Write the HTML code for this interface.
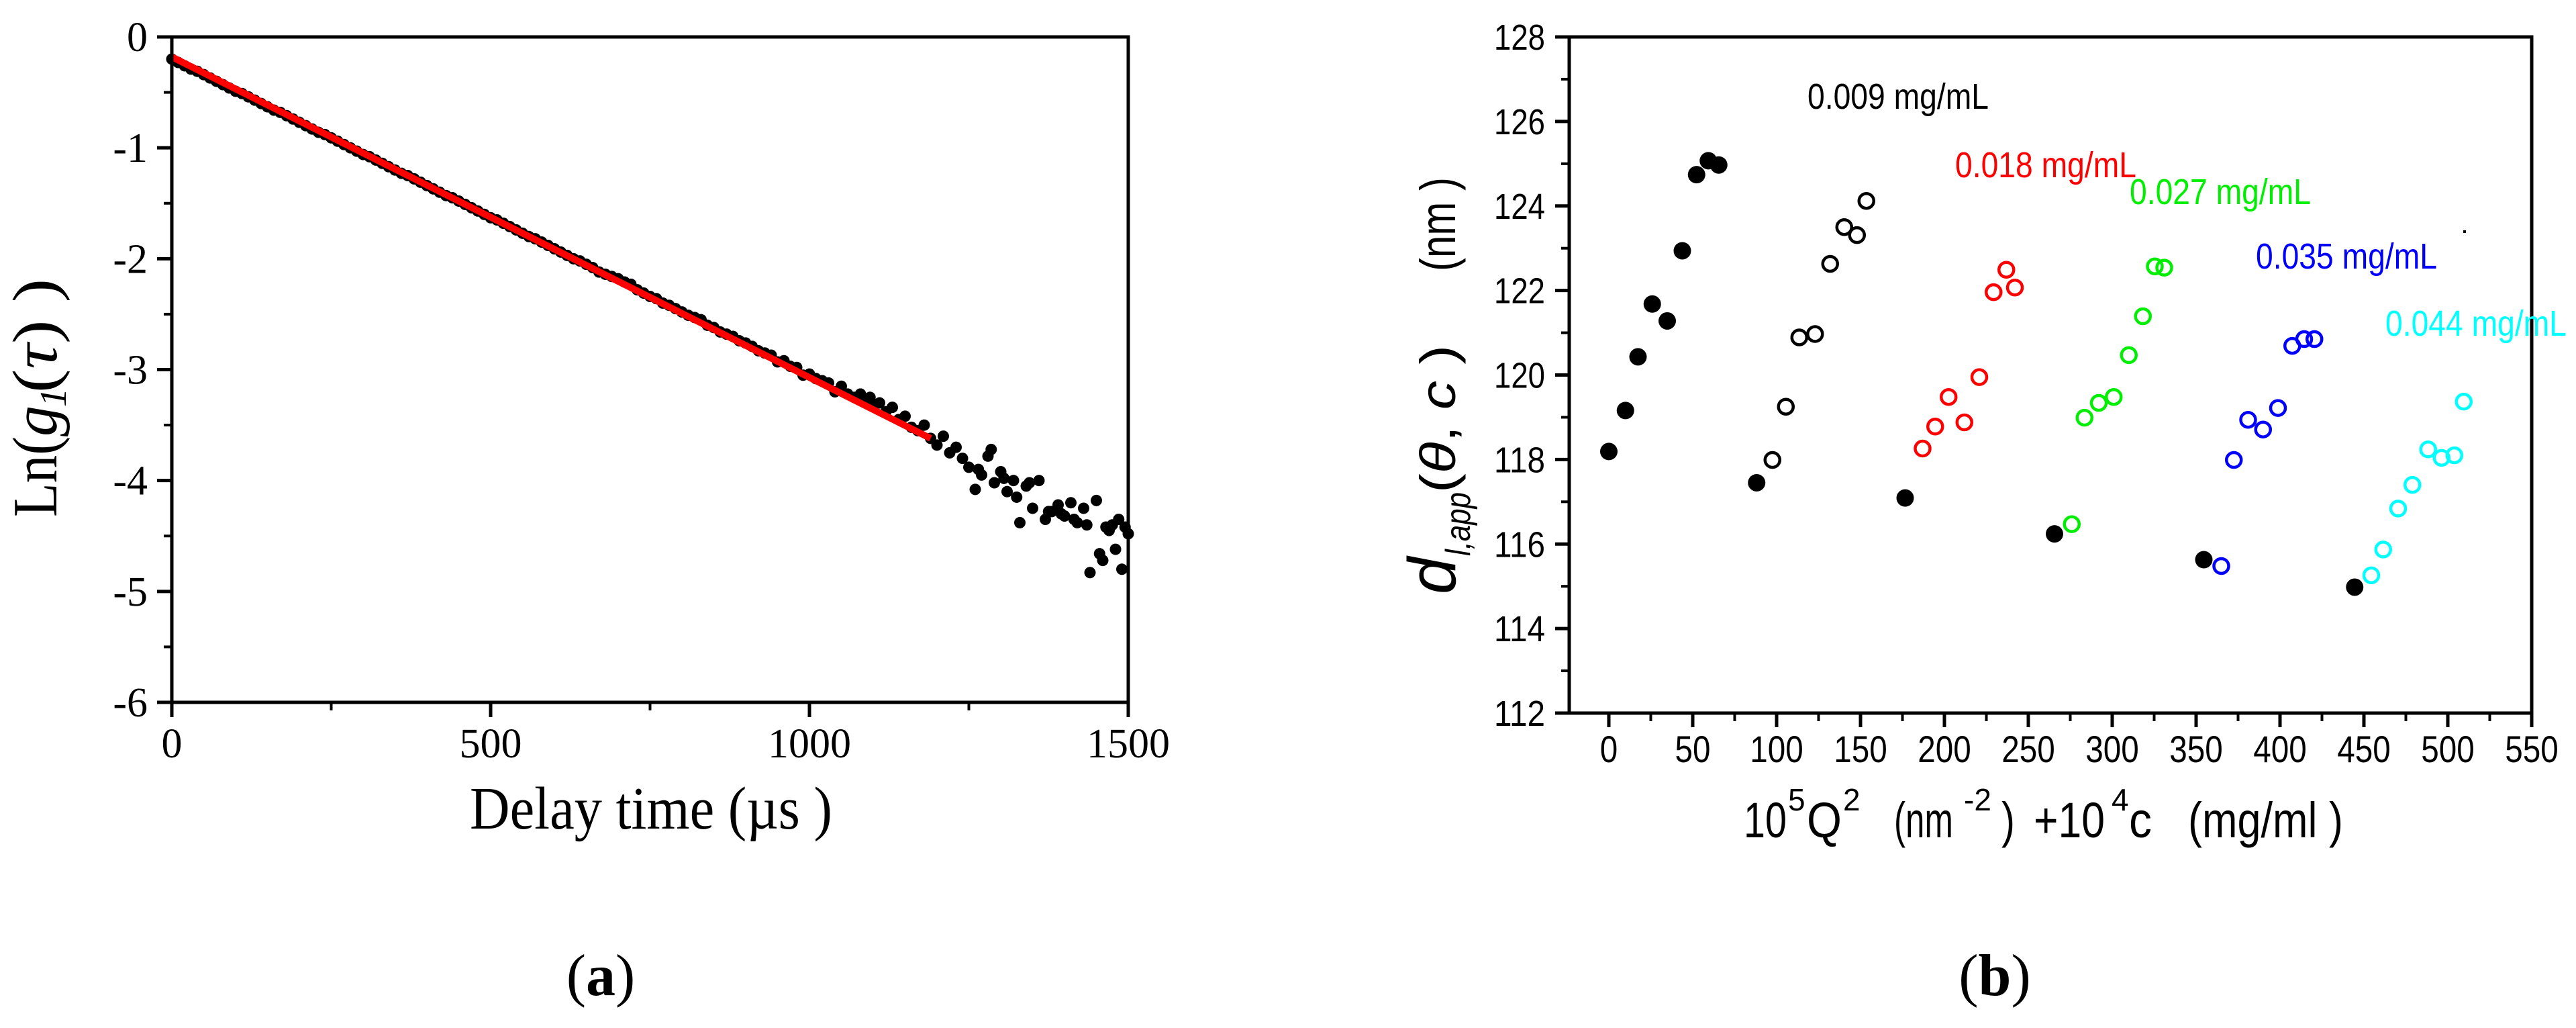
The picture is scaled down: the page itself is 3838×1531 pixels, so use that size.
<!DOCTYPE html>
<html><head><meta charset="utf-8"><style>
html,body{margin:0;padding:0;background:#fff;}
svg{display:block;}
</style></head><body>
<svg id="fig" width="3838" height="1531" viewBox="0 0 3838 1531" xmlns="http://www.w3.org/2000/svg">
<rect x="0" y="0" width="3838" height="1531" fill="#fff"/>
<g id="pa"></g>
<g id="pb"></g>
</svg>
<script>
// ---------- Panel (a) data ----------
const aTimes = [0,10,20,30,40,50,60,70,80,90,100,110,120,130,140,150,160,170,180,190,200,210,220,230,240,250,260,270,280,290,300,310,320,330,340,350,360,370,380,390,400,410,420,430,440,450,460,470,480,490,500,510,520,530,540,550,560,570,580,590,600,610,620,630,640,650,660,670,680,690,700,710,720,730,740,750,760,770,780,790,800,810,820,830,840,850,860,870,880,890,900,910,920,930,940,950,960,970,980,990,1000,1010,1020,1030,1040,1050,1060,1070,1080,1090,1100,1110,1120,1130,1140,1150,1160,1170,1180,1190,1200,1210,1220,1230,1240,1250,1260,1270,1280,1290,1300,1310,1320,1330,1340,1350,1360,1370,1380,1390,1400,1410,1420,1430,1440,1450,1460,1470,1480,1490,1500,1095,1265,1285,1305,1325,1345,1375,1395,1415,1435,1455,1465,1475,1485,1495];
const aValues = [-0.20,-0.23,-0.26,-0.29,-0.31,-0.34,-0.37,-0.40,-0.43,-0.46,-0.49,-0.51,-0.54,-0.57,-0.60,-0.63,-0.66,-0.68,-0.71,-0.74,-0.77,-0.80,-0.83,-0.86,-0.88,-0.91,-0.94,-0.97,-1.00,-1.03,-1.06,-1.08,-1.11,-1.14,-1.17,-1.20,-1.23,-1.25,-1.28,-1.31,-1.34,-1.37,-1.40,-1.43,-1.45,-1.48,-1.51,-1.54,-1.57,-1.60,-1.63,-1.65,-1.68,-1.71,-1.74,-1.77,-1.80,-1.82,-1.85,-1.88,-1.91,-1.94,-1.97,-2.00,-2.02,-2.05,-2.08,-2.12,-2.14,-2.16,-2.18,-2.21,-2.23,-2.28,-2.31,-2.34,-2.36,-2.40,-2.42,-2.45,-2.48,-2.51,-2.53,-2.55,-2.60,-2.62,-2.66,-2.68,-2.70,-2.74,-2.76,-2.79,-2.83,-2.85,-2.87,-2.93,-2.92,-2.97,-2.98,-3.05,-3.04,-3.08,-3.10,-3.12,-3.20,-3.15,-3.22,-3.25,-3.22,-3.28,-3.32,-3.30,-3.38,-3.34,-3.45,-3.42,-3.52,-3.55,-3.50,-3.62,-3.68,-3.60,-3.75,-3.70,-3.80,-3.88,-4.08,-3.95,-3.78,-4.02,-3.92,-4.10,-4.00,-4.38,-4.05,-4.25,-4.00,-4.35,-4.28,-4.22,-4.32,-4.20,-4.38,-4.25,-4.83,-4.18,-4.72,-4.45,-4.62,-4.80,-4.48,-3.25,-3.90,-3.72,-3.98,-4.15,-4.02,-4.28,-4.30,-4.35,-4.40,-4.66,-4.42,-4.40,-4.35,-4.42];
const aFitT = [0,1190];
const aFitV = [-0.18,-3.62];
const aXTicks = [0,500,1000,1500];
const aXMinor = [250,750,1250];
const aYTicks = [0,-1,-2,-3,-4,-5,-6];
const aYMinor = [-0.5,-1.5,-2.5,-3.5,-4.5,-5.5];

// ---------- Panel (b) data ----------
const bFilledX = [0,9.9,17.4,25.9,34.8,43.8,52.3,59.3,65.5,88.1,176.6,265.6,354.6,444.5];
const bFilledY = [118.19,119.16,120.43,121.68,121.28,122.94,124.74,125.07,124.97,117.45,117.09,116.24,115.63,114.98];
const bBlackX = [97.5,105.5,113.5,122.9,131.9,140.3,147.9,153.5];
const bBlackY = [117.99,119.25,120.89,120.97,122.63,123.50,123.31,124.12];
const bRedX = [187.0,194.5,202.5,211.9,220.8,229.3,236.9,242.0];
const bRedY = [118.26,118.78,119.48,118.88,119.95,121.96,122.49,122.07];
const bGreenX = [275.9,283.5,292.0,300.9,309.9,318.3,325.4,331.0];
const bGreenY = [116.47,118.99,119.34,119.48,120.47,121.39,122.57,122.54];
const bBlueX = [365.0,372.5,381.0,389.9,398.8,407.3,414.4,420.5];
const bBlueY = [115.48,117.99,118.94,118.71,119.22,120.69,120.85,120.85];
const bCyanX = [454.4,461.5,470.4,478.9,488.3,496.3,503.9,509.5];
const bCyanY = [115.26,115.87,116.84,117.40,118.24,118.04,118.10,119.37];
const bXTicks = [0,50,100,150,200,250,300,350,400,450,500,550];
const bXMinor = [25,75,125,175,225,275,325,375,425,475,525];
const bYTicks = [112,114,116,118,120,122,124,126,128];
const bYMinor = [113,115,117,119,121,123,125,127];
const bLabels = ["0.009 mg/mL","0.018 mg/mL","0.027 mg/mL","0.035 mg/mL","0.044 mg/mL"];

const NS = "http://www.w3.org/2000/svg";
function mk(parent, tag, attrs, text){
  const e = document.createElementNS(NS, tag);
  for (const k in attrs) e.setAttribute(k, attrs[k]);
  if (text !== undefined) e.textContent = text;
  parent.appendChild(e);
  return e;
}

// ===== Panel A =====
(function(){
  const g = document.getElementById('pa');
  const L=256, R=1681, T=55, B=1046;
  const xs = v => L + (v-0)/(1500-0)*(R-L);
  const ys = v => T + (0-v)/(0-(-6))*(B-T);
  const serif = '"Liberation Serif", serif';
  const pts = mk(g,'g',{});
  
  
  for (let i=0;i<aTimes.length;i++){
    const c = mk(pts,'circle',{cx:xs(aTimes[i]),cy:ys(aValues[i]),r:8.5,fill:'#000'});
    
    
  }
  const fl = mk(g,'line',{x1:xs(aFitT[0]),y1:ys(aFitV[0]),x2:xs(aFitT[1]),y2:ys(aFitV[1]),stroke:'#ff0000','stroke-width':10});
  
  
  const fr = mk(g,'rect',{x:L,y:T,width:R-L,height:B-T,fill:'none',stroke:'#000','stroke-width':5});
  
  
  aXTicks.forEach(v=>{
    const t = mk(g,'line',{x1:xs(v),y1:B,x2:xs(v),y2:B+22,stroke:'#000','stroke-width':5});
    
    
    const lb = mk(g,'text',{x:xs(v),y:1128,'font-family':serif,'font-size':62,'text-anchor':'middle'},String(v));
    
    
  });
  aXMinor.forEach(v=>{
    const t = mk(g,'line',{x1:xs(v),y1:B,x2:xs(v),y2:B+12,stroke:'#000','stroke-width':4});
    
    
  });
  aYTicks.forEach(v=>{
    const t = mk(g,'line',{x1:L-22,y1:ys(v),x2:L,y2:ys(v),stroke:'#000','stroke-width':5});
    
    
    const lb = mk(g,'text',{x:220,y:ys(v)+21,'font-family':serif,'font-size':62,'text-anchor':'end'},String(v));
    
    
  });
  aYMinor.forEach(v=>{
    const t = mk(g,'line',{x1:L-12,y1:ys(v),x2:L,y2:ys(v),stroke:'#000','stroke-width':4});
    
    
  });
})();

// ===== Panel B =====
(function(){
  const g = document.getElementById('pb');
  const L=2338, R=3772, T=55, B=1062;
  const X0=-23.6, X1=550;
  const xs = v => L + (v-X0)/(X1-X0)*(R-L);
  const ys = v => T + (128-v)/(128-112)*(B-T);
  const sans = '"Liberation Sans", sans-serif';
  const fr = mk(g,'rect',{x:L,y:T,width:R-L,height:B-T,fill:'none',stroke:'#000','stroke-width':5});
  
  
  bXTicks.forEach(v=>{
    const t = mk(g,'line',{x1:xs(v),y1:B,x2:xs(v),y2:B+21,stroke:'#000','stroke-width':5});
    
    
    const s = String(v);
    const lb = mk(g,'text',{x:xs(v),y:1135,'font-family':sans,'font-size':56,'text-anchor':'middle',textLength:s.length*26.5,lengthAdjust:'spacingAndGlyphs'},s);
    
    
  });
  bXMinor.forEach(v=>{
    const t = mk(g,'line',{x1:xs(v),y1:B,x2:xs(v),y2:B+12,stroke:'#000','stroke-width':4});
    
    
  });
  bYTicks.forEach(v=>{
    const t = mk(g,'line',{x1:L-21,y1:ys(v),x2:L,y2:ys(v),stroke:'#000','stroke-width':5});
    
    
    const lb = mk(g,'text',{x:2302,y:ys(v)+19,'font-family':sans,'font-size':54,'text-anchor':'end',textLength:76,lengthAdjust:'spacingAndGlyphs'},String(v));
    
    
  });
  bYMinor.forEach(v=>{
    const t = mk(g,'line',{x1:L-12,y1:ys(v),x2:L,y2:ys(v),stroke:'#000','stroke-width':4});
    
    
  });
  const fg = mk(g,'g',{});
  
  
  for (let i=0;i<bFilledX.length;i++){
    const c = mk(fg,'circle',{cx:xs(bFilledX[i]),cy:ys(bFilledY[i]),r:13,fill:'#000'});
    
    
  }
  const series = [[bBlackX,bBlackY,'#000','series-0-009'],[bRedX,bRedY,'#ff0000','series-0-018'],[bGreenX,bGreenY,'#00ee00','series-0-027'],[bBlueX,bBlueY,'#0000ff','series-0-035'],[bCyanX,bCyanY,'#00ffff','series-0-044']];
  series.forEach(s=>{
    const sg = mk(g,'g',{});
    
    
    for (let i=0;i<s[0].length;i++){
      const c = mk(sg,'circle',{cx:xs(s[0][i]),cy:ys(s[1][i]),r:11,fill:'none',stroke:s[2],'stroke-width':4.5});
      
      
    }
  });
  const lx = [2693,2913,3173,3361,3554];
  const ly = [162,264,304,400,500];
  const lc = ['#000','#ff0000','#00ee00','#0000ff','#00ffff'];
  bLabels.forEach((s,i)=>{
    const t = mk(g,'text',{x:lx[i],y:ly[i],'font-family':sans,'font-size':54,fill:lc[i],textLength:270,lengthAdjust:'spacingAndGlyphs'},s);
    
    
  });
  const dot = mk(g,'rect',{x:3670,y:343,width:4,height:4,fill:'#000'});
  
  
})();
</script>

<svg style="position:absolute;left:0;top:0" width="3838" height="1531" viewBox="0 0 3838 1531" xmlns="http://www.w3.org/2000/svg">
  <!-- Panel a titles -->
  <text x="700" y="1234" font-family="Liberation Serif, serif" font-size="90" textLength="540" lengthAdjust="spacingAndGlyphs">Delay time (µs )</text>
  <g transform="translate(84,0) rotate(-90)" font-family="Liberation Serif, serif">
    <text x="-770" y="0" font-size="94" textLength="120" lengthAdjust="spacingAndGlyphs">Ln(</text>
    <text x="-650" y="0" font-size="94" font-style="italic" textLength="46" lengthAdjust="spacingAndGlyphs">g</text>
    <text x="-606" y="14" font-size="56" font-style="italic">1</text>
    <text x="-585" y="0" font-size="94" textLength="170" lengthAdjust="spacingAndGlyphs">(<tspan font-style="italic">τ</tspan>) )</text>
  </g>
  <text x="895" y="1482" font-family="Liberation Serif, serif" font-size="88" text-anchor="middle">(<tspan font-weight="bold">a</tspan>)</text>
  <!-- Panel b titles -->
  <g font-family="Liberation Sans, sans-serif">
    <text x="2598" y="1247" font-size="74" textLength="64" lengthAdjust="spacingAndGlyphs">10</text>
    <text x="2664" y="1207" font-size="46">5</text>
    <text x="2692" y="1247" font-size="74" textLength="52" lengthAdjust="spacingAndGlyphs">Q</text>
    <text x="2746" y="1207" font-size="46">2</text>
    <text x="2822" y="1247" font-size="74" textLength="88" lengthAdjust="spacingAndGlyphs">(nm</text>
    <text x="2926" y="1207" font-size="46">-2</text>
    <text x="2982" y="1247" font-size="74" textLength="20" lengthAdjust="spacingAndGlyphs">)</text>
    <text x="3030" y="1247" font-size="74" textLength="106" lengthAdjust="spacingAndGlyphs">+10</text>
    <text x="3146" y="1207" font-size="46">4</text>
    <text x="3172" y="1247" font-size="74" textLength="34" lengthAdjust="spacingAndGlyphs">c</text>
    <text x="3260" y="1247" font-size="74" textLength="231" lengthAdjust="spacingAndGlyphs">(mg/ml )</text>
  </g>
  <g transform="translate(2168,0) rotate(-90)" font-family="Liberation Sans, sans-serif">
    <text x="-885" y="0" font-size="100" font-style="italic" textLength="55" lengthAdjust="spacingAndGlyphs">d</text>
    <text x="-828" y="22" font-size="52" font-style="italic" textLength="95" lengthAdjust="spacingAndGlyphs">l,app</text>
    <text x="-734" y="0" font-size="74" textLength="220" lengthAdjust="spacingAndGlyphs">(<tspan font-style="italic">θ</tspan>, <tspan font-style="italic">c</tspan> )</text>
    <text x="-404" y="0" font-size="74" textLength="140" lengthAdjust="spacingAndGlyphs">(nm )</text>
  </g>
  <text x="2972" y="1482" font-family="Liberation Serif, serif" font-size="88" text-anchor="middle">(<tspan font-weight="bold">b</tspan>)</text>
</svg>
</body></html>
